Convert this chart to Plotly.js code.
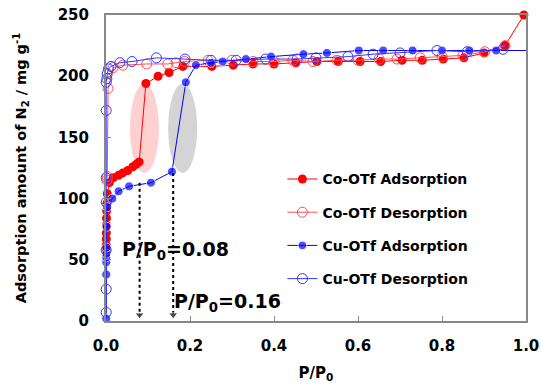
<!DOCTYPE html>
<html>
<head>
<meta charset="utf-8">
<script src="https://cdn.plot.ly/plotly-3.0.1.min.js"></script>
<style>html,body{margin:0;padding:0;background:#fff;}#chart{width:541px;height:387px;}</style>
</head>
<body>
<div id="chart"></div>
<script>
// Co-OTf adsorption (filled red)
var coAdsX = [0.0005, 0.0006, 0.0007, 0.0008, 0.001, 0.0012, 0.0015, 0.002, 0.003, 0.008, 0.017, 0.03, 0.04, 0.052, 0.064, 0.072, 0.079, 0.095, 0.124, 0.15, 0.183, 0.252, 0.303, 0.35, 0.40, 0.452, 0.502, 0.553, 0.605, 0.654, 0.705, 0.753, 0.803, 0.852, 0.90, 0.95, 0.995];
var coAdsY = [58, 62, 67, 72, 78, 84, 90, 96, 104, 113, 117, 119, 121, 123, 126, 128, 130, 194, 200, 203, 208, 208, 209, 210, 210, 211, 212, 212, 212, 212, 213, 213, 214, 215, 219, 225, 250];
// Co-OTf desorption (open red)
var coDesX = [0.95, 0.902, 0.85, 0.80, 0.748, 0.693, 0.65, 0.60, 0.55, 0.493, 0.445, 0.40, 0.35, 0.30, 0.243, 0.187, 0.167, 0.147, 0.097, 0.04, 0.017, 0.005, 0.003, 0.002];
var coDesY = [225, 220, 217, 216, 215, 214, 214, 213, 213, 212, 213, 212, 212, 213, 213, 212, 211, 210, 210, 209, 207, 190, 118, 115];
// Cu-OTf adsorption (filled blue)
var cuAdsX = [0.0005, 0.0005, 0.0006, 0.0007, 0.0008, 0.001, 0.0015, 0.003, 0.015, 0.03, 0.055, 0.107, 0.157, 0.19, 0.214, 0.25, 0.278, 0.333, 0.393, 0.47, 0.526, 0.602, 0.66, 0.73, 0.80, 0.865, 0.929, 1.015];
var cuAdsY = [2, 38, 48, 52, 55, 60, 77, 93, 100, 106, 110, 113, 122, 195, 209, 211, 212, 214, 216, 218, 219, 221, 221, 221, 221, 221, 221, 221];
// Cu-OTf desorption (open blue)
var cuDesX = [0.945, 0.86, 0.788, 0.70, 0.636, 0.576, 0.50, 0.455, 0.38, 0.31, 0.25, 0.188, 0.12, 0.062, 0.033, 0.012, 0.006, 0.003, 0.002, 0.0005, 0.0005, 0.0005, 0.0005, 0.0005, 0.0005, 0.0005];
var cuDesY = [222, 220, 221, 219, 218, 216, 215, 214, 214, 213, 213, 214, 215, 212, 211, 208, 206, 202, 198, 195, 172, 117, 97, 58, 26, 7];

var seriesNames = ['Co-OTf Adsorption', 'Co-OTf Desorption', 'Cu-OTf Adsorption', 'Cu-OTf Desorption'];

// Marked transition pressures and arrow start levels
var arrowX = [0.08, 0.16];
var arrowTop = [113, 121];
var arrowLabels = ['P/P<sub>0</sub>=0.08', 'P/P<sub>0</sub>=0.16'];
var arrowLabelX = [0.165, 0.29];
var arrowLabelY = [58, 15];

// Highlight ellipses [x0, x1, y0, y1]
var ellipseRed = [0.057, 0.126, 121, 194];
var ellipseGray = [0.148, 0.217, 121, 194];

var FONT = 'DejaVu Sans, Verdana, sans-serif';
var RED = '#ff0000', RED2 = '#ff4d4d', BLUE = '#0000ff', BLUE2 = '#3535ff';

function cuAdsSizes() { return cuAdsX.map(function (x) { return x > 1 ? 0 : 9; }); }

var traces = [
  {x: coAdsX, y: coAdsY, name: seriesNames[0], mode: 'lines+markers', legendgroup: 'a', cliponaxis: false,
   line: {color: RED, width: 1}, marker: {color: RED, size: 9, symbol: 'circle'}},
  {x: coDesX, y: coDesY, name: seriesNames[1], mode: 'lines+markers', legendgroup: 'b', cliponaxis: false,
   line: {color: RED2, width: 1}, marker: {color: RED2, size: 10, symbol: 'circle-open', line: {width: 1}}},
  {x: cuAdsX, y: cuAdsY, name: seriesNames[2], mode: 'lines+markers', legendgroup: 'c', cliponaxis: false,
   line: {color: BLUE, width: 1}, marker: {color: BLUE, size: cuAdsSizes(), symbol: 'circle'}},
  {x: cuDesX, y: cuDesY, name: seriesNames[3], mode: 'lines+markers', legendgroup: 'd', cliponaxis: false,
   line: {color: BLUE2, width: 1}, marker: {color: BLUE2, size: 10, symbol: 'circle-open', line: {width: 1}}}
];

for (var i = 0; i < arrowX.length; i++) {
  traces.push({x: [arrowX[i], arrowX[i]], y: [arrowTop[i], 5], mode: 'lines+markers', showlegend: false,
    hoverinfo: 'skip', cliponaxis: false,
    line: {color: '#000', width: 2, dash: 'dot'},
    marker: {symbol: 'triangle-down', size: [0, 8], color: '#000'}});
}

var annotations = arrowLabels.map(function (t, i) {
  return {x: arrowLabelX[i], y: arrowLabelY[i], xref: 'x', yref: 'y', text: t, showarrow: false,
    font: {family: FONT, size: 19, weight: 'bold', color: '#000'}};
});

function ell(b, color) {
  return {type: 'circle', xref: 'x', yref: 'y', x0: b[0], x1: b[1], y0: b[2], y1: b[3],
    fillcolor: color, line: {width: 0}, layer: 'below'};
}

var layout = {
  width: 541, height: 387,
  margin: {l: 106, r: 15, t: 15, b: 66},
  paper_bgcolor: '#fff', plot_bgcolor: '#fff',
  font: {family: FONT, color: '#000'},
  showlegend: true,
  legend: {x: 0.42, y: 0.515, xanchor: 'left', yanchor: 'top', bgcolor: 'rgba(0,0,0,0)',
    traceorder: 'grouped', tracegroupgap: 12,
    font: {family: FONT, size: 14, weight: 'bold', color: '#000'}},
  xaxis: {range: [0, 1], dtick: 0.2, tickformat: '.1f', ticks: 'inside', ticklen: 5, tickcolor: '#888',
    showline: true, linecolor: '#888', linewidth: 2, mirror: true, showgrid: false, zeroline: false,
    ticklabelstandoff: 10,
    tickfont: {family: FONT, size: 15, weight: 'bold', color: '#000'},
    title: {text: 'P/P<sub>0</sub>', standoff: 13, font: {family: FONT, size: 15, weight: 'bold', color: '#000'}}},
  yaxis: {range: [0, 250], dtick: 50, ticks: 'inside', ticklen: 5, tickcolor: '#888',
    showline: true, linecolor: '#888', linewidth: 2, mirror: true, showgrid: false, zeroline: false,
    ticklabelstandoff: 12,
    tickfont: {family: FONT, size: 15, weight: 'bold', color: '#000'},
    title: {text: 'Adsorption amount of N<sub>2</sub> / mg g<sup>-1</sup>', standoff: 28,
      font: {family: FONT, size: 14.5, weight: 'bold', color: '#000'}}},
  shapes: [ell(ellipseRed, 'rgba(255,120,120,0.35)'), ell(ellipseGray, 'rgba(160,160,160,0.45)')],
  annotations: annotations
};

Plotly.newPlot('chart', traces, layout, {displayModeBar: false, staticPlot: true});
</script>
</body>
</html>
